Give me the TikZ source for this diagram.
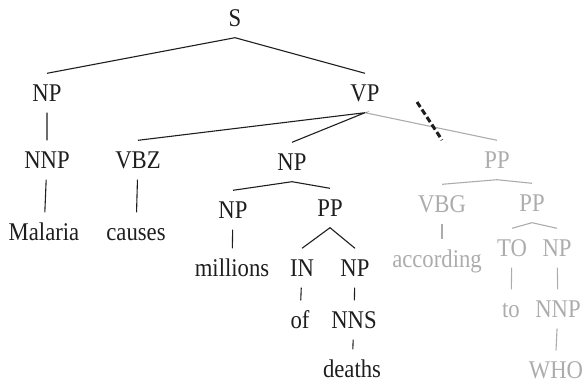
\documentclass[tikz,border=0pt]{standalone}
\usepackage{fontspec}
\setmainfont[FakeStretch = 0.89]{Liberation Serif}
\usepackage{xcolor}
\usepackage{tikz}
\definecolor{prunegray}{RGB}{172,172,172}
\definecolor{treeblack}{RGB}{30,30,30}

\tikzset{
    tag/.style = {inner xsep = 0pt, inner ysep = 11pt, text height = 17pt, text depth = 0pt,
        font = \fontsize{25.5}{30}\selectfont, text = treeblack},
    pruned/.style = {tag, text = prunegray},
    branch/.style = {draw = treeblack, line width = 1.1pt},
    prunedbranch/.style = {draw = prunegray, line width = 1.1pt}
}

\begin{document}
\begin{tikzpicture}[x = 1pt, y = -1pt]
        \useasboundingbox (0, 0) rectangle (586, 383);

        \node[tag] (s) at (235, 18) {S};
        \node[tag] (np1) at (47, 93) {NP};
        \node[tag] (vp) at (365, 93) {VP};
        \node[tag] (nnp1) at (47, 160) {NNP};
        \node[tag] (vbz) at (138, 160) {VBZ};
        \node[tag] (np2) at (292, 162) {NP};
        \node[tag] (malaria) at (44, 232) {Malaria};
        \node[tag] (causes) at (136, 232) {causes};
        \node[tag] (np3) at (233, 210) {NP};
        \node[tag] (pp2) at (330, 208) {PP};
        \node[tag] (millions) at (232, 268) {millions};
        \node[tag] (in) at (302, 268) {IN};
        \node[tag] (np4) at (355, 268) {NP};
        \node[tag] (of) at (300, 320) {of};
        \node[tag] (nns) at (354, 320) {NNS};
        \node[tag] (deaths) at (352, 369) {deaths};

        \node[pruned] (pp1) at (497, 160) {PP};
        \node[pruned] (vbg) at (442, 204) {VBG};
        \node[pruned] (pp3) at (532, 203) {PP};
        \node[pruned] (according) at (437, 259) {according};
        \node[pruned] (to1) at (512, 248) {TO};
        \node[pruned] (np5) at (557, 248) {NP};
        \node[pruned] (to2) at (511, 309) {to};
        \node[pruned] (nnp2) at (558, 309) {NNP};
        \node[pruned, inner ysep = 2pt] (who) at (556, 370) {WHO};

        \draw[branch] (np1.north) -- (s.south) -- (vp.north);
        \draw[branch] (np1) -- (nnp1) -- (malaria);
        \draw[branch] (vbz.north) -- (vp.south) -- (np2.north);
        \draw[branch] (vbz) -- (causes);
        \draw[branch] (np3.north) -- (np2.south) -- (pp2.north);
        \draw[branch] (np3) -- (millions);
        \draw[branch] (in.north) -- (pp2.south) -- (np4.north);
        \draw[branch] (in) -- (of);
        \draw[branch] (np4) -- (nns) -- (deaths);

        \draw[prunedbranch] (vp.south) -- (pp1.north);
        \draw[prunedbranch] (vbg.north) -- (pp1.south) -- (pp3.north);
        \draw[prunedbranch] (vbg) -- (according.north -| vbg);
        \draw[prunedbranch] (to1.north) -- (pp3.south) -- (np5.north);
        \draw[prunedbranch] (to1) -- (to2);
        \draw[prunedbranch] (np5) -- (nnp2) -- ([yshift = 9pt] who.north);

        \coordinate (cut1) at (417, 102);
        \coordinate (cut2) at (442, 140);
        \draw[treeblack, line width = 3pt, dash pattern = on 6pt off 3pt] (cut1) -- (cut2);
    \end{tikzpicture}
\end{document}
